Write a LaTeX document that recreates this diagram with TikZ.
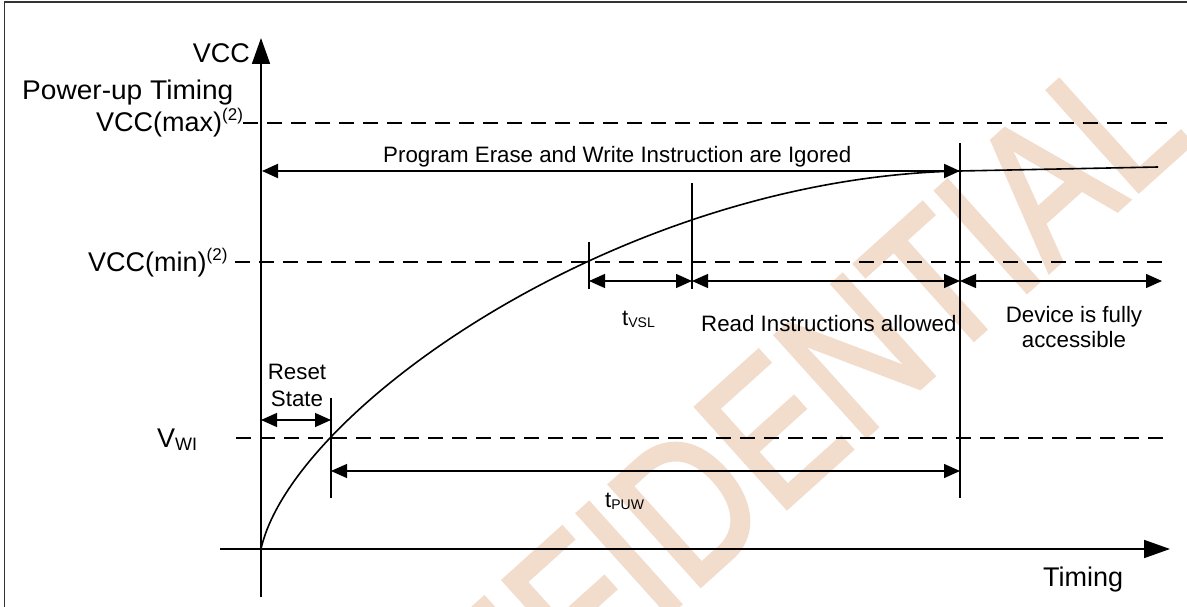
\documentclass[tikz,border=0pt]{standalone}
\usepackage{fontspec}
\setmainfont{Liberation Sans}
\newfontfamily\wmfont{Liberation Sans}[FakeBold=2.5]
\usetikzlibrary{arrows.meta}
\definecolor{wmcol}{RGB}{242,220,204}
\begin{document}
\begin{tikzpicture}[x=1pt,y=-1pt,
  big/.style={font=\fontsize{27}{32}\selectfont, inner sep=0pt},
  lbl/.style={font=\fontsize{22.3}{25}\selectfont, inner sep=0pt},
  axisline/.style={line width=1.8pt, -{Triangle[length=26pt,width=18pt]}},
  guide/.style={line width=1.4pt, dash pattern=on 15pt off 9pt},
  tickline/.style={line width=1.3pt},
  dimline/.style={line width=1.3pt, {Triangle[length=16pt,width=14pt]}-{Triangle[length=16pt,width=14pt]}},
  curveline/.style={line width=1.6pt},
  wmark/.style={font=\wmfont\fontsize{196}{196}\selectfont, text=wmcol, inner sep=0pt},
]
\useasboundingbox (0,0) rectangle (1187,607);
% watermark
\begin{scope}
\clip (0,0) rectangle (1187,607);
\node[wmark, rotate=42] (wm) at (712,484) {\scalebox{0.82}[1]{CONFIDENTIAL}};
\end{scope}
% frame
\coordinate (fb) at (4.5,607);
\coordinate (fc) at (4.5,2);
\coordinate (fr) at (1187,2);
\draw[line width=1.5pt, black!80] (fb) -- (fc) -- (fr);
% axes
\coordinate (O) at (261,549);
\coordinate (Ybot) at (261,597);
\coordinate (Ytop) at (261,38);
\coordinate (Xl) at (220,549);
\coordinate (Xr) at (1170,549);
\draw[axisline] (Ybot) -- (Ytop);
\draw[axisline] (Xl) -- (Xr);
% dashed levels
\coordinate (maxL) at (243,123); \coordinate (maxR) at (1167,123);
\coordinate (minL) at (235,262); \coordinate (minR) at (1167,262);
\coordinate (wiL) at (236,438);  \coordinate (wiR) at (1167,438);
\draw[guide] (maxL) -- (maxR);
\draw[guide] (minL) -- (minR);
\draw[guide] (wiL) -- (wiR);
% vertical markers
\coordinate (v960t) at (960,143); \coordinate (v960b) at (960,498);
\coordinate (v692t) at (692,183); \coordinate (v692b) at (692,289);
\coordinate (v589t) at (589,242); \coordinate (v589b) at (589,289);
\coordinate (v331t) at (331,398); \coordinate (v331b) at (331,498);
\draw[tickline] (v960t) -- (v960b);
\draw[tickline] (v692t) -- (v692b);
\draw[tickline] (v589t) -- (v589b);
\draw[tickline] (v331t) -- (v331b);
% curve
\coordinate (cEnd) at (960,171);
\coordinate (cTail) at (1158,167);
\draw[curveline] (O) .. controls (292,410) and (620,178) .. (cEnd) -- (cTail);
% dimension arrows
\coordinate (pgL) at (262,171); \coordinate (pgR) at (960,171);
\draw[dimline, line width=2pt] (pgL) -- (pgR);
\coordinate (a589) at (589,281); \coordinate (a692) at (692,281);
\coordinate (a960) at (960,281); \coordinate (a1162) at (1162,281);
\draw[dimline] (a589) -- (a692);
\draw[dimline] (a692) -- (a960);
\draw[dimline] (a960) -- (a1162);
\coordinate (rsL) at (261,420); \coordinate (rsR) at (331,420);
\draw[dimline] (rsL) -- (rsR);
\coordinate (puL) at (331,471); \coordinate (puR) at (960,471);
\draw[dimline] (puL) -- (puR);
% labels
\node[big, anchor=base east] (vcc) at (250,63) {VCC};
\node[big, anchor=base west] (put) at (22,100) {\scalebox{1.04}[1]{Power-up Timing}};
\node[big, anchor=base west] (vmax) at (96,132) {VCC(max)\raisebox{11pt}{\fontsize{17}{17}\selectfont(2)}};
\node[big, anchor=base west] (vmin) at (88,271) {VCC(min)\raisebox{11pt}{\fontsize{17}{17}\selectfont(2)}};
\node[big, anchor=base west] (vwi) at (157,447) {V\raisebox{-3pt}{\fontsize{18}{18}\selectfont WI}};
\node[lbl, align=center, anchor=north] (rs) at (297,364) {Reset\\[1.5pt]State};
\node[lbl, anchor=base west] (pg) at (383,163) {Program Erase and Write Instruction are Igored};
\node[lbl, anchor=base west] (tvsl) at (622,325) {t\raisebox{-2pt}{\fontsize{14}{14}\selectfont VSL}};
\node[lbl, anchor=base west] (rd) at (701,331) {Read Instructions allowed};
\node[lbl, align=center, anchor=north] (dv) at (1074,306) {Device is fully\\accessible};
\node[lbl, anchor=base west] (tpuw) at (605,507) {t\raisebox{-2pt}{\fontsize{14}{14}\selectfont PUW}};
\node[big, anchor=base west] (tim) at (1043,586) {Timing};
\end{tikzpicture}
\end{document}
